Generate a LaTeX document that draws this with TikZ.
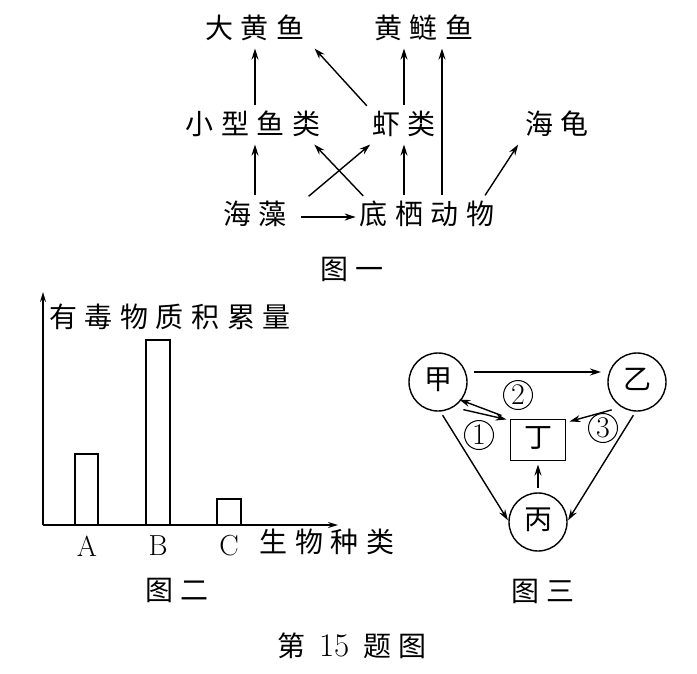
\documentclass[tikz,border=0pt]{standalone}
\usepackage{fontspec}
\newfontfamily\cjk[LetterSpace=27]{Noto Sans CJK SC}
\usetikzlibrary{arrows.meta}

\begin{document}
\begin{tikzpicture}[x=1pt,y=-1pt,line width=1.4pt,
  every node/.style={inner sep=0pt},
  txt/.style={font=\cjk\fontsize{28}{32}\selectfont,text height=21pt,text depth=6pt,outer sep=4pt},
  org/.style={txt,circle,draw,minimum size=58pt,outer sep=0pt},
  num/.style={circle,draw,line width=1pt,minimum size=29pt,font=\fontsize{30}{32}\selectfont},
  lbl/.style={font=\fontsize{29}{32}\selectfont},
  arr/.style={-{Stealth[length=11pt,width=7pt]},shorten <=5pt}]
  \useasboundingbox (0,0) rectangle (697,673);

  % figure 1: food web
  \node[txt] (dhy) at (255,31) {大黄鱼};
  \node[txt] (hly) at (424,31) {黄鲢鱼};
  \node[txt] (xxy) at (253,127) {小型鱼类};
  \node[txt] (xl) at (404,127) {虾类};
  \node[txt] (hg) at (557,127) {海龟};
  \node[txt] (hz) at (255,217) {海藻};
  \node[txt] (dq) at (427,217) {底栖动物};
  \node[txt] (t1) at (352,272) {图一};

  \draw[arr] (xxy.north -| dhy.south) -- (dhy.south);
  \draw[arr] (hz.north) -- (hz.north |- xxy.south);
  \draw[arr] ([xshift=2pt]xl.north west) -- ([xshift=6pt]dhy.south east);
  \draw[arr] (xl.north) -- (xl.north |- hly.south);
  \draw[arr] (dq.north -| xl.north) -- (xl.south);
  \draw[arr] ([xshift=15pt]dq.north) -- ([xshift=18pt]hly.south);
  \draw[arr] ([xshift=14pt]hz.north east) -- ([xshift=2pt]xl.south west);
  \draw[arr] ([xshift=11pt]dq.north west) -- ([xshift=-10pt]xxy.south east);
  \draw[arr] ([xshift=-16pt]dq.north east) -- ([xshift=-3pt]hg.south west);
  \draw[arr,shorten <=10pt] (hz) -- (dq);

  % figure 2: bar chart
  \coordinate (o) at (43,525);
  \coordinate (ytop) at (43,292);
  \coordinate (xend) at (338,525);
  \draw[-{Stealth[length=10pt,width=6pt]}] (o) -- (ytop);
  \draw[-{Stealth[length=10pt,width=6pt]}] (o) -- (xend);
  \draw (75,525) rectangle (98,454);
  \draw (146,525) rectangle (170,340);
  \draw (217,525) rectangle (241,499);
  \node[lbl] (la) at (87,546) {A};
  \node[lbl] (lb) at (158,546) {B};
  \node[lbl] (lc) at (229,546) {C};
  \node[txt] (ylab) at (170,320) {有毒物质积累量};
  \node[txt] (xlab) at (327,545) {生物种类};
  \node[txt] (t2) at (177,593) {图二};

  % figure 3: cycle
  \node[org] (jia) at (438,382) {甲};
  \node[org] (yi) at (637,382) {乙};
  \node[org] (bing) at (538,522) {丙};
  \node[txt,draw,minimum width=55pt,minimum height=41pt,outer sep=0pt] (ding) at (538,440) {丁};
  \draw[arr,shorten <=7pt,shorten >=7pt] (jia.east |- 0,372) -- (yi.west |- 0,372);
  \draw[arr] ([yshift=-6pt]jia.south east) -- ([xshift=-4pt]ding.north west);
  \draw[arr,shorten <=0pt,shorten >=3pt] ([xshift=-9pt,yshift=4pt]ding.north west) -- ([xshift=-2pt,yshift=4pt]jia.south east);
  \draw[arr] ([yshift=-6pt]yi.south west) -- ([xshift=4pt,yshift=-2pt]ding.north east);
  \draw[arr,shorten >=2pt] ([xshift=2pt]jia.south) -- (bing.west);
  \draw[arr,shorten >=2pt] ([xshift=-1pt]yi.south) -- (bing.east);
  \draw[arr,shorten >=4pt] (bing) -- (ding);
  \node[num] (n1) at (479,435) {1};
  \node[num] (n2) at (518,395) {2};
  \node[num] (n3) at (603,428) {3};
  \node[txt] (t3) at (543,594) {图三};

  % caption
  \node[txt] (cap) at (352,649) {第 {\normalfont\fontsize{33}{34}\selectfont 15} 题图};
\end{tikzpicture}
\end{document}
